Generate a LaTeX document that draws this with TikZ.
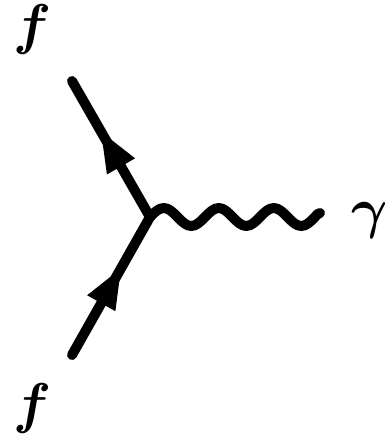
\documentclass[tikz,border=0pt]{standalone}
\usepackage{amsmath}
\usepackage{bm}
\usepackage{graphicx}
\usepackage{tikz}
\usetikzlibrary{arrows.meta, decorations.markings}

\newcommand{\plabel}[1]{\scalebox{5.6}{$\bm{#1}$}}

\begin{document}
\begin{tikzpicture}[
  x=1pt, y=-1pt,
  fermion/.style={
    line width=10pt, line cap=round,
    postaction={decorate},
    decoration={markings,
      mark=at position 0.64 with {\arrow{Triangle[length=42pt, width=29pt]}}}
  },
  photon/.style={line width=10pt, line cap=round, line join=round},
  partlabel/.style={inner sep=0pt}
]
\useasboundingbox (0,0) rectangle (385,436);

% ---- VERTEX ----
\coordinate (v)    at (150, 217);
\coordinate (fin)  at (72, 355);
\coordinate (fout) at (72, 81);
\coordinate (pend) at (320, 213);

% ---- LIGNES ----
\draw[fermion] (fin) -- (v);
\draw[fermion] (v) -- (fout);
\draw[photon]  (v)
  \foreach \i in {1,2,3} {
    sin ++(13.75,-9) cos ++(13.75,9) sin ++(13.75,9) cos ++(13.75,-9)
  } sin (pend);

% ---- ETIQUETTES ----
\node[partlabel] (ftop) at (32, 30)  {\plabel{f}};
\node[partlabel] (fbot) at (32, 408) {\plabel{f}};
\node[partlabel] (gam)  at (370, 220) {\plabel{\gamma}};

\end{tikzpicture}
\end{document}
